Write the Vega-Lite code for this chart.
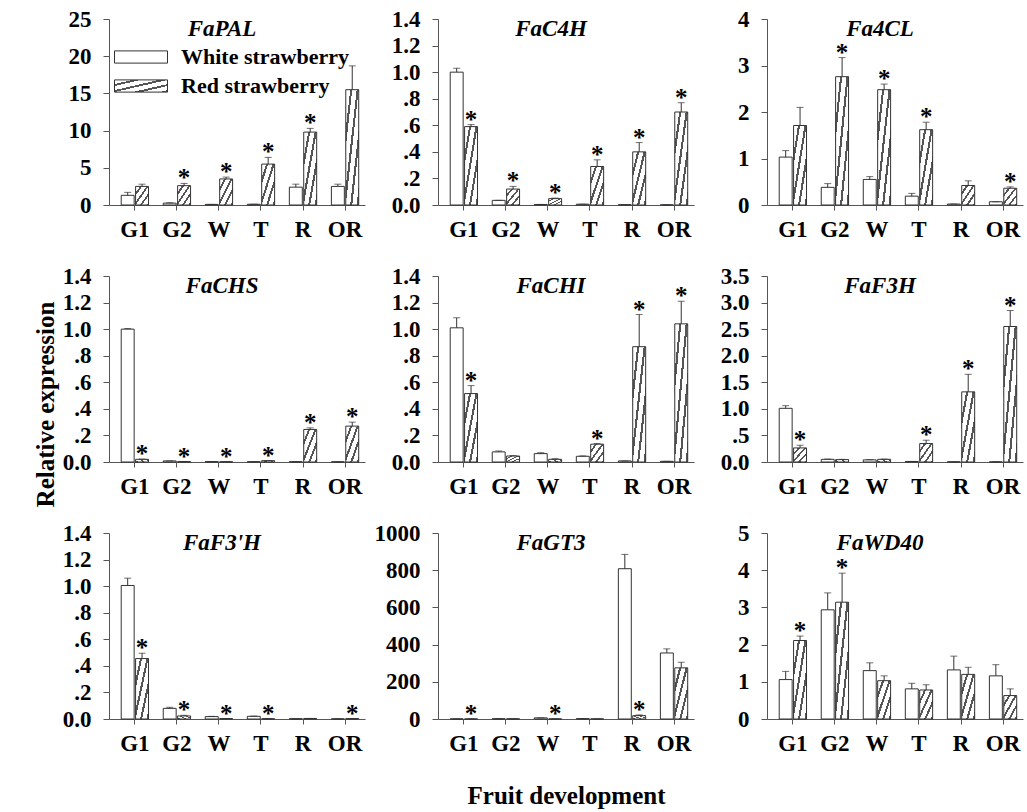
{
  "$schema": "https://vega.github.io/schema/vega-lite/v6.json",
  "padding": {"left": 32, "top": 8, "right": 5, "bottom": 5},
  "bounds": "flush",
  "spacing": {"row": 71, "column": 73},
  "columns": 3,
  "datasets": {
    "d": [
      {"g":"FaPAL","s":"G1","c":"White strawberry","v":1.3,"hi":1.7},
      {"g":"FaPAL","s":"G1","c":"Red strawberry","v":2.5,"hi":2.8},
      {"g":"FaPAL","s":"G2","c":"White strawberry","v":0.25,"hi":0.3},
      {"g":"FaPAL","s":"G2","c":"Red strawberry","v":2.6,"hi":2.9,"sig":true},
      {"g":"FaPAL","s":"W","c":"White strawberry","v":0.08,"hi":0.08},
      {"g":"FaPAL","s":"W","c":"Red strawberry","v":3.5,"hi":3.75,"sig":true},
      {"g":"FaPAL","s":"T","c":"White strawberry","v":0.1,"hi":0.1},
      {"g":"FaPAL","s":"T","c":"Red strawberry","v":5.5,"hi":6.4,"sig":true},
      {"g":"FaPAL","s":"R","c":"White strawberry","v":2.4,"hi":2.8},
      {"g":"FaPAL","s":"R","c":"Red strawberry","v":9.8,"hi":10.3,"sig":true},
      {"g":"FaPAL","s":"OR","c":"White strawberry","v":2.5,"hi":2.8},
      {"g":"FaPAL","s":"OR","c":"Red strawberry","v":15.5,"hi":18.7},

      {"g":"FaC4H","s":"G1","c":"White strawberry","v":1.0,"hi":1.03},
      {"g":"FaC4H","s":"G1","c":"Red strawberry","v":0.59,"hi":0.605,"sig":true},
      {"g":"FaC4H","s":"G2","c":"White strawberry","v":0.035,"hi":0.035},
      {"g":"FaC4H","s":"G2","c":"Red strawberry","v":0.12,"hi":0.14,"sig":true},
      {"g":"FaC4H","s":"W","c":"White strawberry","v":0.004,"hi":0.004},
      {"g":"FaC4H","s":"W","c":"Red strawberry","v":0.048,"hi":0.052,"sig":true},
      {"g":"FaC4H","s":"T","c":"White strawberry","v":0.006,"hi":0.006},
      {"g":"FaC4H","s":"T","c":"Red strawberry","v":0.29,"hi":0.34,"sig":true},
      {"g":"FaC4H","s":"R","c":"White strawberry","v":0.002,"hi":0.002},
      {"g":"FaC4H","s":"R","c":"Red strawberry","v":0.40,"hi":0.47,"sig":true},
      {"g":"FaC4H","s":"OR","c":"White strawberry","v":0.001,"hi":0.001},
      {"g":"FaC4H","s":"OR","c":"Red strawberry","v":0.70,"hi":0.77,"sig":true},

      {"g":"Fa4CL","s":"G1","c":"White strawberry","v":1.03,"hi":1.17},
      {"g":"Fa4CL","s":"G1","c":"Red strawberry","v":1.71,"hi":2.10},
      {"g":"Fa4CL","s":"G2","c":"White strawberry","v":0.38,"hi":0.46},
      {"g":"Fa4CL","s":"G2","c":"Red strawberry","v":2.76,"hi":3.17,"sig":true},
      {"g":"Fa4CL","s":"W","c":"White strawberry","v":0.55,"hi":0.61},
      {"g":"Fa4CL","s":"W","c":"Red strawberry","v":2.48,"hi":2.60,"sig":true},
      {"g":"Fa4CL","s":"T","c":"White strawberry","v":0.19,"hi":0.25},
      {"g":"Fa4CL","s":"T","c":"Red strawberry","v":1.62,"hi":1.78,"sig":true},
      {"g":"Fa4CL","s":"R","c":"White strawberry","v":0.02,"hi":0.02},
      {"g":"Fa4CL","s":"R","c":"Red strawberry","v":0.42,"hi":0.52},
      {"g":"Fa4CL","s":"OR","c":"White strawberry","v":0.07,"hi":0.07},
      {"g":"Fa4CL","s":"OR","c":"Red strawberry","v":0.36,"hi":0.39,"sig":true},

      {"g":"FaCHS","s":"G1","c":"White strawberry","v":1.0,"hi":1.005},
      {"g":"FaCHS","s":"G1","c":"Red strawberry","v":0.02,"hi":0.022,"sig":true},
      {"g":"FaCHS","s":"G2","c":"White strawberry","v":0.008,"hi":0.008},
      {"g":"FaCHS","s":"G2","c":"Red strawberry","v":0.003,"hi":0.003,"sig":true},
      {"g":"FaCHS","s":"W","c":"White strawberry","v":0.003,"hi":0.003},
      {"g":"FaCHS","s":"W","c":"Red strawberry","v":0.002,"hi":0.002,"sig":true},
      {"g":"FaCHS","s":"T","c":"White strawberry","v":0.002,"hi":0.002},
      {"g":"FaCHS","s":"T","c":"Red strawberry","v":0.01,"hi":0.01,"sig":true},
      {"g":"FaCHS","s":"R","c":"White strawberry","v":0.002,"hi":0.002},
      {"g":"FaCHS","s":"R","c":"Red strawberry","v":0.245,"hi":0.257,"sig":true},
      {"g":"FaCHS","s":"OR","c":"White strawberry","v":0.001,"hi":0.001},
      {"g":"FaCHS","s":"OR","c":"Red strawberry","v":0.27,"hi":0.30,"sig":true},

      {"g":"FaCHI","s":"G1","c":"White strawberry","v":1.01,"hi":1.085},
      {"g":"FaCHI","s":"G1","c":"Red strawberry","v":0.515,"hi":0.575,"sig":true},
      {"g":"FaCHI","s":"G2","c":"White strawberry","v":0.076,"hi":0.083},
      {"g":"FaCHI","s":"G2","c":"Red strawberry","v":0.045,"hi":0.048},
      {"g":"FaCHI","s":"W","c":"White strawberry","v":0.063,"hi":0.07},
      {"g":"FaCHI","s":"W","c":"Red strawberry","v":0.02,"hi":0.025},
      {"g":"FaCHI","s":"T","c":"White strawberry","v":0.043,"hi":0.046},
      {"g":"FaCHI","s":"T","c":"Red strawberry","v":0.134,"hi":0.139,"sig":true},
      {"g":"FaCHI","s":"R","c":"White strawberry","v":0.008,"hi":0.008},
      {"g":"FaCHI","s":"R","c":"Red strawberry","v":0.868,"hi":1.11,"sig":true},
      {"g":"FaCHI","s":"OR","c":"White strawberry","v":0.005,"hi":0.005},
      {"g":"FaCHI","s":"OR","c":"Red strawberry","v":1.04,"hi":1.21,"sig":true},

      {"g":"FaF3H","s":"G1","c":"White strawberry","v":1.01,"hi":1.06},
      {"g":"FaF3H","s":"G1","c":"Red strawberry","v":0.265,"hi":0.315,"sig":true},
      {"g":"FaF3H","s":"G2","c":"White strawberry","v":0.05,"hi":0.055},
      {"g":"FaF3H","s":"G2","c":"Red strawberry","v":0.045,"hi":0.05},
      {"g":"FaF3H","s":"W","c":"White strawberry","v":0.04,"hi":0.045},
      {"g":"FaF3H","s":"W","c":"Red strawberry","v":0.05,"hi":0.055},
      {"g":"FaF3H","s":"T","c":"White strawberry","v":0.01,"hi":0.01},
      {"g":"FaF3H","s":"T","c":"Red strawberry","v":0.347,"hi":0.41,"sig":true},
      {"g":"FaF3H","s":"R","c":"White strawberry","v":0.003,"hi":0.003},
      {"g":"FaF3H","s":"R","c":"Red strawberry","v":1.32,"hi":1.65,"sig":true},
      {"g":"FaF3H","s":"OR","c":"White strawberry","v":0.002,"hi":0.002},
      {"g":"FaF3H","s":"OR","c":"Red strawberry","v":2.55,"hi":2.85,"sig":true},

      {"g":"FaF3'H","s":"G1","c":"White strawberry","v":1.005,"hi":1.06},
      {"g":"FaF3'H","s":"G1","c":"Red strawberry","v":0.455,"hi":0.495,"sig":true},
      {"g":"FaF3'H","s":"G2","c":"White strawberry","v":0.08,"hi":0.088},
      {"g":"FaF3'H","s":"G2","c":"Red strawberry","v":0.023,"hi":0.028,"sig":true},
      {"g":"FaF3'H","s":"W","c":"White strawberry","v":0.018,"hi":0.02},
      {"g":"FaF3'H","s":"W","c":"Red strawberry","v":0.003,"hi":0.003,"sig":true},
      {"g":"FaF3'H","s":"T","c":"White strawberry","v":0.02,"hi":0.022},
      {"g":"FaF3'H","s":"T","c":"Red strawberry","v":0.002,"hi":0.002,"sig":true},
      {"g":"FaF3'H","s":"R","c":"White strawberry","v":0.002,"hi":0.002},
      {"g":"FaF3'H","s":"R","c":"Red strawberry","v":0.004,"hi":0.004},
      {"g":"FaF3'H","s":"OR","c":"White strawberry","v":0.001,"hi":0.001},
      {"g":"FaF3'H","s":"OR","c":"Red strawberry","v":0.003,"hi":0.003,"sig":true},

      {"g":"FaGT3","s":"G1","c":"White strawberry","v":0.5,"hi":0.5},
      {"g":"FaGT3","s":"G1","c":"Red strawberry","v":0.3,"hi":0.3,"sig":true},
      {"g":"FaGT3","s":"G2","c":"White strawberry","v":1.5,"hi":1.5},
      {"g":"FaGT3","s":"G2","c":"Red strawberry","v":1,"hi":1},
      {"g":"FaGT3","s":"W","c":"White strawberry","v":6,"hi":6},
      {"g":"FaGT3","s":"W","c":"Red strawberry","v":0.5,"hi":0.5,"sig":true},
      {"g":"FaGT3","s":"T","c":"White strawberry","v":2,"hi":2},
      {"g":"FaGT3","s":"T","c":"Red strawberry","v":0.5,"hi":0.5},
      {"g":"FaGT3","s":"R","c":"White strawberry","v":808,"hi":885},
      {"g":"FaGT3","s":"R","c":"Red strawberry","v":18,"hi":22,"sig":true},
      {"g":"FaGT3","s":"OR","c":"White strawberry","v":355,"hi":377},
      {"g":"FaGT3","s":"OR","c":"Red strawberry","v":275,"hi":305},

      {"g":"FaWD40","s":"G1","c":"White strawberry","v":1.06,"hi":1.28},
      {"g":"FaWD40","s":"G1","c":"Red strawberry","v":2.11,"hi":2.23,"sig":true},
      {"g":"FaWD40","s":"G2","c":"White strawberry","v":2.935,"hi":3.39},
      {"g":"FaWD40","s":"G2","c":"Red strawberry","v":3.14,"hi":3.92,"sig":true},
      {"g":"FaWD40","s":"W","c":"White strawberry","v":1.30,"hi":1.51},
      {"g":"FaWD40","s":"W","c":"Red strawberry","v":1.03,"hi":1.16},
      {"g":"FaWD40","s":"T","c":"White strawberry","v":0.81,"hi":0.96},
      {"g":"FaWD40","s":"T","c":"Red strawberry","v":0.78,"hi":0.92},
      {"g":"FaWD40","s":"R","c":"White strawberry","v":1.32,"hi":1.69},
      {"g":"FaWD40","s":"R","c":"Red strawberry","v":1.20,"hi":1.39},
      {"g":"FaWD40","s":"OR","c":"White strawberry","v":1.16,"hi":1.46},
      {"g":"FaWD40","s":"OR","c":"Red strawberry","v":0.63,"hi":0.81}
    ]
  },
  "concat": [
    {
      "width": 256, "height": 186, "data": {"name": "d"},
      "title": {"text": "FaPAL"},
      "transform": [{"filter": {"field": "g", "equal": "FaPAL"}}],
      "encoding": {
        "x": {"field": "s", "type": "nominal", "sort": ["G1","G2","W","T","R","OR"], "scale": {"paddingInner": 0.35, "paddingOuter": 0.22, "align": 0.66}, "axis": {"title": null}},
        "xOffset": {"field": "c", "type": "nominal", "sort": ["White strawberry","Red strawberry"], "scale": {"paddingInner": 0.1}},
        "y": {"field": "v", "type": "quantitative", "scale": {"domain": [0, 25]}, "axis": {"title": null, "values": [0,5,10,15,20,25], "format": "d"}}
      },
      "layer": [
        {"mark": {"type": "bar", "stroke": "#333333", "strokeWidth": 1}, "encoding": {"fill": {"field": "c", "type": "nominal", "legend": {"title": null, "labelFontWeight": "bold", "labelFont": "Liberation Serif", "labelFontSize": 22, "encode": {"labels": {"fontWeight": {"value": "bold"}}}}, "scale": {"domain": ["White strawberry","Red strawberry"], "range": ["#ffffff", {"expr": "{gradient: 'linear', x1: 0, y1: 0, x2: 1, y2: 1, stops: [{offset: 0, color: '#ffffff'}, {offset: 0.17, color: '#ffffff'}, {offset: 0.17, color: '#555555'}, {offset: 0.25, color: '#555555'}, {offset: 0.25, color: '#ffffff'}, {offset: 0.42, color: '#ffffff'}, {offset: 0.42, color: '#555555'}, {offset: 0.5, color: '#555555'}, {offset: 0.5, color: '#ffffff'}, {offset: 0.67, color: '#ffffff'}, {offset: 0.67, color: '#555555'}, {offset: 0.75, color: '#555555'}, {offset: 0.75, color: '#ffffff'}, {offset: 0.92, color: '#ffffff'}, {offset: 0.92, color: '#555555'}, {offset: 1, color: '#555555'}]}"}]}}}},
        {"mark": {"type": "rule", "color": "#333333", "strokeWidth": 1}, "encoding": {"y2": {"field": "hi"}}},
        {"mark": {"type": "tick", "color": "#333333", "size": 7, "thickness": 1, "orient": "horizontal"}, "encoding": {"y": {"field": "hi", "type": "quantitative"}}},
        {"transform": [{"filter": "datum.sig"}], "mark": {"type": "text", "text": "*", "font": "Liberation Serif", "fontSize": 25, "fontWeight": "bold", "baseline": "alphabetic", "dy": 3, "color": "black"}, "encoding": {"y": {"field": "hi", "type": "quantitative"}}}
      ]
    },
    {
      "width": 256, "height": 186, "data": {"name": "d"},
      "title": {"text": "FaC4H"},
      "transform": [{"filter": {"field": "g", "equal": "FaC4H"}}],
      "encoding": {
        "x": {"field": "s", "type": "nominal", "sort": ["G1","G2","W","T","R","OR"], "scale": {"paddingInner": 0.35, "paddingOuter": 0.22, "align": 0.66}, "axis": {"title": null}},
        "xOffset": {"field": "c", "type": "nominal", "sort": ["White strawberry","Red strawberry"], "scale": {"paddingInner": 0.1}},
        "y": {"field": "v", "type": "quantitative", "scale": {"domain": [0, 1.4]}, "axis": {"title": null, "values": [0,0.2,0.4,0.6,0.8,1,1.2,1.4], "labelExpr": "datum.value === 0 ? '0.0' : datum.value < 1 ? replace(format(datum.value, '.1f'), '0.', '.') : format(datum.value, '.1f')"}}
      },
      "layer": [
        {"mark": {"type": "bar", "stroke": "#333333", "strokeWidth": 1}, "encoding": {"fill": {"field": "c", "type": "nominal", "legend": {"title": null}, "scale": {"domain": ["White strawberry","Red strawberry"], "range": ["#ffffff", {"expr": "{gradient: 'linear', x1: 0, y1: 0, x2: 1, y2: 1, stops: [{offset: 0, color: '#ffffff'}, {offset: 0.17, color: '#ffffff'}, {offset: 0.17, color: '#555555'}, {offset: 0.25, color: '#555555'}, {offset: 0.25, color: '#ffffff'}, {offset: 0.42, color: '#ffffff'}, {offset: 0.42, color: '#555555'}, {offset: 0.5, color: '#555555'}, {offset: 0.5, color: '#ffffff'}, {offset: 0.67, color: '#ffffff'}, {offset: 0.67, color: '#555555'}, {offset: 0.75, color: '#555555'}, {offset: 0.75, color: '#ffffff'}, {offset: 0.92, color: '#ffffff'}, {offset: 0.92, color: '#555555'}, {offset: 1, color: '#555555'}]}"}]}}}},
        {"mark": {"type": "rule", "color": "#333333", "strokeWidth": 1}, "encoding": {"y2": {"field": "hi"}}},
        {"mark": {"type": "tick", "color": "#333333", "size": 7, "thickness": 1, "orient": "horizontal"}, "encoding": {"y": {"field": "hi", "type": "quantitative"}}},
        {"transform": [{"filter": "datum.sig"}], "mark": {"type": "text", "text": "*", "font": "Liberation Serif", "fontSize": 25, "fontWeight": "bold", "baseline": "alphabetic", "dy": 3, "color": "black"}, "encoding": {"y": {"field": "hi", "type": "quantitative"}}}
      ]
    },
    {
      "width": 256, "height": 186, "data": {"name": "d"},
      "title": {"text": "Fa4CL"},
      "transform": [{"filter": {"field": "g", "equal": "Fa4CL"}}],
      "encoding": {
        "x": {"field": "s", "type": "nominal", "sort": ["G1","G2","W","T","R","OR"], "scale": {"paddingInner": 0.35, "paddingOuter": 0.22, "align": 0.66}, "axis": {"title": null}},
        "xOffset": {"field": "c", "type": "nominal", "sort": ["White strawberry","Red strawberry"], "scale": {"paddingInner": 0.1}},
        "y": {"field": "v", "type": "quantitative", "scale": {"domain": [0, 4]}, "axis": {"title": null, "values": [0,1,2,3,4], "format": "d"}}
      },
      "layer": [
        {"mark": {"type": "bar", "stroke": "#333333", "strokeWidth": 1}, "encoding": {"fill": {"field": "c", "type": "nominal", "legend": {"title": null}, "scale": {"domain": ["White strawberry","Red strawberry"], "range": ["#ffffff", {"expr": "{gradient: 'linear', x1: 0, y1: 0, x2: 1, y2: 1, stops: [{offset: 0, color: '#ffffff'}, {offset: 0.17, color: '#ffffff'}, {offset: 0.17, color: '#555555'}, {offset: 0.25, color: '#555555'}, {offset: 0.25, color: '#ffffff'}, {offset: 0.42, color: '#ffffff'}, {offset: 0.42, color: '#555555'}, {offset: 0.5, color: '#555555'}, {offset: 0.5, color: '#ffffff'}, {offset: 0.67, color: '#ffffff'}, {offset: 0.67, color: '#555555'}, {offset: 0.75, color: '#555555'}, {offset: 0.75, color: '#ffffff'}, {offset: 0.92, color: '#ffffff'}, {offset: 0.92, color: '#555555'}, {offset: 1, color: '#555555'}]}"}]}}}},
        {"mark": {"type": "rule", "color": "#333333", "strokeWidth": 1}, "encoding": {"y2": {"field": "hi"}}},
        {"mark": {"type": "tick", "color": "#333333", "size": 7, "thickness": 1, "orient": "horizontal"}, "encoding": {"y": {"field": "hi", "type": "quantitative"}}},
        {"transform": [{"filter": "datum.sig"}], "mark": {"type": "text", "text": "*", "font": "Liberation Serif", "fontSize": 25, "fontWeight": "bold", "baseline": "alphabetic", "dy": 3, "color": "black"}, "encoding": {"y": {"field": "hi", "type": "quantitative"}}}
      ]
    },
    {
      "width": 256, "height": 186, "data": {"name": "d"},
      "title": {"text": "FaCHS"},
      "transform": [{"filter": {"field": "g", "equal": "FaCHS"}}],
      "encoding": {
        "x": {"field": "s", "type": "nominal", "sort": ["G1","G2","W","T","R","OR"], "scale": {"paddingInner": 0.35, "paddingOuter": 0.22, "align": 0.66}, "axis": {"title": null}},
        "xOffset": {"field": "c", "type": "nominal", "sort": ["White strawberry","Red strawberry"], "scale": {"paddingInner": 0.1}},
        "y": {"field": "v", "type": "quantitative", "scale": {"domain": [0, 1.4]}, "axis": {"title": "Relative expression", "titleFontSize": 25, "titleX": -56, "titleY": 128, "titleBaseline": "alphabetic", "titleAngle": -90, "values": [0,0.2,0.4,0.6,0.8,1,1.2,1.4], "labelExpr": "datum.value === 0 ? '0.0' : datum.value < 1 ? replace(format(datum.value, '.1f'), '0.', '.') : format(datum.value, '.1f')"}}
      },
      "layer": [
        {"mark": {"type": "bar", "stroke": "#333333", "strokeWidth": 1}, "encoding": {"fill": {"field": "c", "type": "nominal", "legend": {"title": null}, "scale": {"domain": ["White strawberry","Red strawberry"], "range": ["#ffffff", {"expr": "{gradient: 'linear', x1: 0, y1: 0, x2: 1, y2: 1, stops: [{offset: 0, color: '#ffffff'}, {offset: 0.17, color: '#ffffff'}, {offset: 0.17, color: '#555555'}, {offset: 0.25, color: '#555555'}, {offset: 0.25, color: '#ffffff'}, {offset: 0.42, color: '#ffffff'}, {offset: 0.42, color: '#555555'}, {offset: 0.5, color: '#555555'}, {offset: 0.5, color: '#ffffff'}, {offset: 0.67, color: '#ffffff'}, {offset: 0.67, color: '#555555'}, {offset: 0.75, color: '#555555'}, {offset: 0.75, color: '#ffffff'}, {offset: 0.92, color: '#ffffff'}, {offset: 0.92, color: '#555555'}, {offset: 1, color: '#555555'}]}"}]}}}},
        {"mark": {"type": "rule", "color": "#333333", "strokeWidth": 1}, "encoding": {"y2": {"field": "hi"}}},
        {"mark": {"type": "tick", "color": "#333333", "size": 7, "thickness": 1, "orient": "horizontal"}, "encoding": {"y": {"field": "hi", "type": "quantitative"}}},
        {"transform": [{"filter": "datum.sig"}], "mark": {"type": "text", "text": "*", "font": "Liberation Serif", "fontSize": 25, "fontWeight": "bold", "baseline": "alphabetic", "dy": 3, "color": "black"}, "encoding": {"y": {"field": "hi", "type": "quantitative"}}}
      ]
    },
    {
      "width": 256, "height": 186, "data": {"name": "d"},
      "title": {"text": "FaCHI"},
      "transform": [{"filter": {"field": "g", "equal": "FaCHI"}}],
      "encoding": {
        "x": {"field": "s", "type": "nominal", "sort": ["G1","G2","W","T","R","OR"], "scale": {"paddingInner": 0.35, "paddingOuter": 0.22, "align": 0.66}, "axis": {"title": null}},
        "xOffset": {"field": "c", "type": "nominal", "sort": ["White strawberry","Red strawberry"], "scale": {"paddingInner": 0.1}},
        "y": {"field": "v", "type": "quantitative", "scale": {"domain": [0, 1.4]}, "axis": {"title": null, "values": [0,0.2,0.4,0.6,0.8,1,1.2,1.4], "labelExpr": "datum.value === 0 ? '0.0' : datum.value < 1 ? replace(format(datum.value, '.1f'), '0.', '.') : format(datum.value, '.1f')"}}
      },
      "layer": [
        {"mark": {"type": "bar", "stroke": "#333333", "strokeWidth": 1}, "encoding": {"fill": {"field": "c", "type": "nominal", "legend": {"title": null}, "scale": {"domain": ["White strawberry","Red strawberry"], "range": ["#ffffff", {"expr": "{gradient: 'linear', x1: 0, y1: 0, x2: 1, y2: 1, stops: [{offset: 0, color: '#ffffff'}, {offset: 0.17, color: '#ffffff'}, {offset: 0.17, color: '#555555'}, {offset: 0.25, color: '#555555'}, {offset: 0.25, color: '#ffffff'}, {offset: 0.42, color: '#ffffff'}, {offset: 0.42, color: '#555555'}, {offset: 0.5, color: '#555555'}, {offset: 0.5, color: '#ffffff'}, {offset: 0.67, color: '#ffffff'}, {offset: 0.67, color: '#555555'}, {offset: 0.75, color: '#555555'}, {offset: 0.75, color: '#ffffff'}, {offset: 0.92, color: '#ffffff'}, {offset: 0.92, color: '#555555'}, {offset: 1, color: '#555555'}]}"}]}}}},
        {"mark": {"type": "rule", "color": "#333333", "strokeWidth": 1}, "encoding": {"y2": {"field": "hi"}}},
        {"mark": {"type": "tick", "color": "#333333", "size": 7, "thickness": 1, "orient": "horizontal"}, "encoding": {"y": {"field": "hi", "type": "quantitative"}}},
        {"transform": [{"filter": "datum.sig"}], "mark": {"type": "text", "text": "*", "font": "Liberation Serif", "fontSize": 25, "fontWeight": "bold", "baseline": "alphabetic", "dy": 3, "color": "black"}, "encoding": {"y": {"field": "hi", "type": "quantitative"}}}
      ]
    },
    {
      "width": 256, "height": 186, "data": {"name": "d"},
      "title": {"text": "FaF3H"},
      "transform": [{"filter": {"field": "g", "equal": "FaF3H"}}],
      "encoding": {
        "x": {"field": "s", "type": "nominal", "sort": ["G1","G2","W","T","R","OR"], "scale": {"paddingInner": 0.35, "paddingOuter": 0.22, "align": 0.66}, "axis": {"title": null}},
        "xOffset": {"field": "c", "type": "nominal", "sort": ["White strawberry","Red strawberry"], "scale": {"paddingInner": 0.1}},
        "y": {"field": "v", "type": "quantitative", "scale": {"domain": [0, 3.5]}, "axis": {"title": null, "values": [0,0.5,1,1.5,2,2.5,3,3.5], "labelExpr": "datum.value === 0 ? '0.0' : datum.value < 1 ? replace(format(datum.value, '.1f'), '0.', '.') : format(datum.value, '.1f')"}}
      },
      "layer": [
        {"mark": {"type": "bar", "stroke": "#333333", "strokeWidth": 1}, "encoding": {"fill": {"field": "c", "type": "nominal", "legend": {"title": null}, "scale": {"domain": ["White strawberry","Red strawberry"], "range": ["#ffffff", {"expr": "{gradient: 'linear', x1: 0, y1: 0, x2: 1, y2: 1, stops: [{offset: 0, color: '#ffffff'}, {offset: 0.17, color: '#ffffff'}, {offset: 0.17, color: '#555555'}, {offset: 0.25, color: '#555555'}, {offset: 0.25, color: '#ffffff'}, {offset: 0.42, color: '#ffffff'}, {offset: 0.42, color: '#555555'}, {offset: 0.5, color: '#555555'}, {offset: 0.5, color: '#ffffff'}, {offset: 0.67, color: '#ffffff'}, {offset: 0.67, color: '#555555'}, {offset: 0.75, color: '#555555'}, {offset: 0.75, color: '#ffffff'}, {offset: 0.92, color: '#ffffff'}, {offset: 0.92, color: '#555555'}, {offset: 1, color: '#555555'}]}"}]}}}},
        {"mark": {"type": "rule", "color": "#333333", "strokeWidth": 1}, "encoding": {"y2": {"field": "hi"}}},
        {"mark": {"type": "tick", "color": "#333333", "size": 7, "thickness": 1, "orient": "horizontal"}, "encoding": {"y": {"field": "hi", "type": "quantitative"}}},
        {"transform": [{"filter": "datum.sig"}], "mark": {"type": "text", "text": "*", "font": "Liberation Serif", "fontSize": 25, "fontWeight": "bold", "baseline": "alphabetic", "dy": 3, "color": "black"}, "encoding": {"y": {"field": "hi", "type": "quantitative"}}}
      ]
    },
    {
      "width": 256, "height": 186, "data": {"name": "d"},
      "title": {"text": "FaF3'H"},
      "transform": [{"filter": {"field": "g", "equal": "FaF3'H"}}],
      "encoding": {
        "x": {"field": "s", "type": "nominal", "sort": ["G1","G2","W","T","R","OR"], "scale": {"paddingInner": 0.35, "paddingOuter": 0.22, "align": 0.66}, "axis": {"title": null}},
        "xOffset": {"field": "c", "type": "nominal", "sort": ["White strawberry","Red strawberry"], "scale": {"paddingInner": 0.1}},
        "y": {"field": "v", "type": "quantitative", "scale": {"domain": [0, 1.4]}, "axis": {"title": null, "values": [0,0.2,0.4,0.6,0.8,1,1.2,1.4], "labelExpr": "datum.value === 0 ? '0.0' : datum.value < 1 ? replace(format(datum.value, '.1f'), '0.', '.') : format(datum.value, '.1f')"}}
      },
      "layer": [
        {"mark": {"type": "bar", "stroke": "#333333", "strokeWidth": 1}, "encoding": {"fill": {"field": "c", "type": "nominal", "legend": {"title": null}, "scale": {"domain": ["White strawberry","Red strawberry"], "range": ["#ffffff", {"expr": "{gradient: 'linear', x1: 0, y1: 0, x2: 1, y2: 1, stops: [{offset: 0, color: '#ffffff'}, {offset: 0.17, color: '#ffffff'}, {offset: 0.17, color: '#555555'}, {offset: 0.25, color: '#555555'}, {offset: 0.25, color: '#ffffff'}, {offset: 0.42, color: '#ffffff'}, {offset: 0.42, color: '#555555'}, {offset: 0.5, color: '#555555'}, {offset: 0.5, color: '#ffffff'}, {offset: 0.67, color: '#ffffff'}, {offset: 0.67, color: '#555555'}, {offset: 0.75, color: '#555555'}, {offset: 0.75, color: '#ffffff'}, {offset: 0.92, color: '#ffffff'}, {offset: 0.92, color: '#555555'}, {offset: 1, color: '#555555'}]}"}]}}}},
        {"mark": {"type": "rule", "color": "#333333", "strokeWidth": 1}, "encoding": {"y2": {"field": "hi"}}},
        {"mark": {"type": "tick", "color": "#333333", "size": 7, "thickness": 1, "orient": "horizontal"}, "encoding": {"y": {"field": "hi", "type": "quantitative"}}},
        {"transform": [{"filter": "datum.sig"}], "mark": {"type": "text", "text": "*", "font": "Liberation Serif", "fontSize": 25, "fontWeight": "bold", "baseline": "alphabetic", "dy": 3, "color": "black"}, "encoding": {"y": {"field": "hi", "type": "quantitative"}}}
      ]
    },
    {
      "width": 256, "height": 186, "data": {"name": "d"},
      "title": {"text": "FaGT3"},
      "transform": [{"filter": {"field": "g", "equal": "FaGT3"}}],
      "encoding": {
        "x": {"field": "s", "type": "nominal", "sort": ["G1","G2","W","T","R","OR"], "scale": {"paddingInner": 0.35, "paddingOuter": 0.22, "align": 0.66}, "axis": {"title": "Fruit development", "titleFontSize": 25, "titlePadding": 28}},
        "xOffset": {"field": "c", "type": "nominal", "sort": ["White strawberry","Red strawberry"], "scale": {"paddingInner": 0.1}},
        "y": {"field": "v", "type": "quantitative", "scale": {"domain": [0, 1000]}, "axis": {"title": null, "values": [0,200,400,600,800,1000], "format": "d"}}
      },
      "layer": [
        {"mark": {"type": "bar", "stroke": "#333333", "strokeWidth": 1}, "encoding": {"fill": {"field": "c", "type": "nominal", "legend": {"title": null}, "scale": {"domain": ["White strawberry","Red strawberry"], "range": ["#ffffff", {"expr": "{gradient: 'linear', x1: 0, y1: 0, x2: 1, y2: 1, stops: [{offset: 0, color: '#ffffff'}, {offset: 0.17, color: '#ffffff'}, {offset: 0.17, color: '#555555'}, {offset: 0.25, color: '#555555'}, {offset: 0.25, color: '#ffffff'}, {offset: 0.42, color: '#ffffff'}, {offset: 0.42, color: '#555555'}, {offset: 0.5, color: '#555555'}, {offset: 0.5, color: '#ffffff'}, {offset: 0.67, color: '#ffffff'}, {offset: 0.67, color: '#555555'}, {offset: 0.75, color: '#555555'}, {offset: 0.75, color: '#ffffff'}, {offset: 0.92, color: '#ffffff'}, {offset: 0.92, color: '#555555'}, {offset: 1, color: '#555555'}]}"}]}}}},
        {"mark": {"type": "rule", "color": "#333333", "strokeWidth": 1}, "encoding": {"y2": {"field": "hi"}}},
        {"mark": {"type": "tick", "color": "#333333", "size": 7, "thickness": 1, "orient": "horizontal"}, "encoding": {"y": {"field": "hi", "type": "quantitative"}}},
        {"transform": [{"filter": "datum.sig"}], "mark": {"type": "text", "text": "*", "font": "Liberation Serif", "fontSize": 25, "fontWeight": "bold", "baseline": "alphabetic", "dy": 3, "color": "black"}, "encoding": {"y": {"field": "hi", "type": "quantitative"}}}
      ]
    },
    {
      "width": 256, "height": 186, "data": {"name": "d"},
      "title": {"text": "FaWD40"},
      "transform": [{"filter": {"field": "g", "equal": "FaWD40"}}],
      "encoding": {
        "x": {"field": "s", "type": "nominal", "sort": ["G1","G2","W","T","R","OR"], "scale": {"paddingInner": 0.35, "paddingOuter": 0.22, "align": 0.66}, "axis": {"title": null}},
        "xOffset": {"field": "c", "type": "nominal", "sort": ["White strawberry","Red strawberry"], "scale": {"paddingInner": 0.1}},
        "y": {"field": "v", "type": "quantitative", "scale": {"domain": [0, 5]}, "axis": {"title": null, "values": [0,1,2,3,4,5], "format": "d"}}
      },
      "layer": [
        {"mark": {"type": "bar", "stroke": "#333333", "strokeWidth": 1}, "encoding": {"fill": {"field": "c", "type": "nominal", "legend": {"title": null}, "scale": {"domain": ["White strawberry","Red strawberry"], "range": ["#ffffff", {"expr": "{gradient: 'linear', x1: 0, y1: 0, x2: 1, y2: 1, stops: [{offset: 0, color: '#ffffff'}, {offset: 0.17, color: '#ffffff'}, {offset: 0.17, color: '#555555'}, {offset: 0.25, color: '#555555'}, {offset: 0.25, color: '#ffffff'}, {offset: 0.42, color: '#ffffff'}, {offset: 0.42, color: '#555555'}, {offset: 0.5, color: '#555555'}, {offset: 0.5, color: '#ffffff'}, {offset: 0.67, color: '#ffffff'}, {offset: 0.67, color: '#555555'}, {offset: 0.75, color: '#555555'}, {offset: 0.75, color: '#ffffff'}, {offset: 0.92, color: '#ffffff'}, {offset: 0.92, color: '#555555'}, {offset: 1, color: '#555555'}]}"}]}}}},
        {"mark": {"type": "rule", "color": "#333333", "strokeWidth": 1}, "encoding": {"y2": {"field": "hi"}}},
        {"mark": {"type": "tick", "color": "#333333", "size": 7, "thickness": 1, "orient": "horizontal"}, "encoding": {"y": {"field": "hi", "type": "quantitative"}}},
        {"transform": [{"filter": "datum.sig"}], "mark": {"type": "text", "text": "*", "font": "Liberation Serif", "fontSize": 25, "fontWeight": "bold", "baseline": "alphabetic", "dy": 3, "color": "black"}, "encoding": {"y": {"field": "hi", "type": "quantitative"}}}
      ]
    }
  ],
  "config": {
    "view": {"stroke": null},
    "font": "Liberation Serif",
    "axis": {"domainColor": "#555555", "tickColor": "#555555", "labelColor": "black", "labelFont": "Liberation Serif", "labelFontWeight": "bold", "grid": false, "titleFont": "Liberation Serif", "titleFontWeight": "bold", "titleColor": "black"},
    "axisX": {"labelFont": "Liberation Serif", "labelFontSize": 23, "labelAngle": 0, "tickSize": 5, "labelPadding": 8},
    "axisY": {"labelFont": "Liberation Serif", "labelFontSize": 23, "tickSize": 6, "labelPadding": 12},
    "title": {"font": "Liberation Serif", "fontSize": 23, "fontWeight": "bold", "fontStyle": "italic", "color": "black", "offset": -33, "dx": -15, "anchor": "middle"},
    "legend": {"orient": "none", "legendX": 5, "legendY": 27, "symbolType": "M-1,-0.23H1V0.23H-1Z", "symbolSize": 2809, "symbolStrokeColor": "#333333", "symbolStrokeWidth": 1, "symbolOpacity": 1, "labelFont": "Liberation Serif", "labelFontWeight": "bold", "labelFontSize": 22, "labelColor": "black", "labelOffset": 13, "labelLimit": 400, "clipHeight": 22, "rowPadding": 7, "padding": 0}
  }
}
